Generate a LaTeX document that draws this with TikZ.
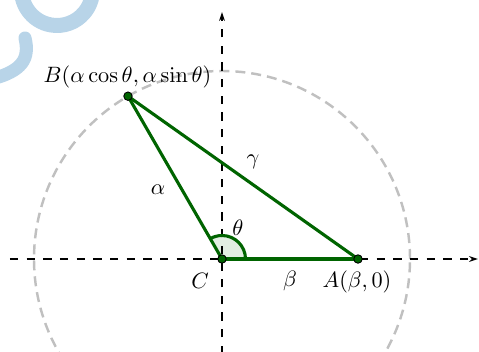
\documentclass[tikz,border=0pt]{standalone}
\usetikzlibrary{arrows.meta}
\definecolor{dkgreen}{RGB}{0,100,0}
\definecolor{wedgefill}{RGB}{226,238,226}
\definecolor{circgray}{RGB}{192,192,192}
\definecolor{wmblue}{RGB}{184,212,232}
\tikzset{
  axis/.style={black, line width=0.6pt, dash pattern=on 3.75pt off 3.75pt, -{Stealth[length=4pt,width=2.6pt]}},
  circ/.style={circgray, line width=1.1pt, dash pattern=on 4.5pt off 2.7pt},
  edge/.style={dkgreen, line width=1.4pt},
  dot/.style={circle, inner sep=0pt, minimum size=3.8pt, fill=dkgreen, draw=black, line width=0.4pt},
  wm/.style={wmblue, line width=6.75pt},
  lbl/.style={inner sep=0pt}
}
\begin{document}
\begin{tikzpicture}[x=0.45pt,y=0.45pt]
\clip (-222,-92) rectangle (257,259);
% watermark
\draw[wm] (-165,269) ++(170:35.5) arc (170:360:35.5);
\draw[wm, line width=5.9pt, line cap=round] (-197,221) .. controls (-192,200) and (-200,188) .. (-230,180);
% circle
\draw[circ] (0,0) circle (188);
% coordinates
\coordinate (Cp) at (0,0);
\coordinate (Ap) at (136,0);
\coordinate (Bp) at (120:188);
\coordinate (xs) at (-212,0);
\coordinate (xe) at (256,0);
\coordinate (ys) at (0,-95);
\coordinate (ye) at (0,247);
% angle wedge
\fill[wedgefill] (Cp) -- (23.5,0) arc (0:120:23.5) -- cycle;
% axes
\draw[axis] (xs) -- (xe);
\draw[axis] (ys) -- (ye);
\draw[edge] (23.5,0) arc (0:120:23.5);
% triangle
\draw[edge] (Cp) -- (Ap);
\draw[edge] (Ap) -- (Bp);
\draw[edge] (Bp) -- (Cp);
% dots
\node[dot] (C) at (Cp) {};
\node[dot] (A) at (Ap) {};
\node[dot] (B) at (Bp) {};
% labels
\node[lbl] (Blab) at (-94.5,182) {$B(\alpha\cos\theta,\alpha\sin\theta)$};
\node[lbl] (alab) at (-64,69) {$\alpha$};
\node[lbl] (glab) at (31,97) {$\gamma$};
\node[lbl] (tlab) at (16,31) {$\theta$};
\node[lbl] (Clab) at (-22,-22) {$C$};
\node[lbl] (blab) at (68,-22) {$\beta$};
\node[lbl] (Alab) at (135,-22.5) {$A(\beta,0)$};
\end{tikzpicture}
\end{document}
